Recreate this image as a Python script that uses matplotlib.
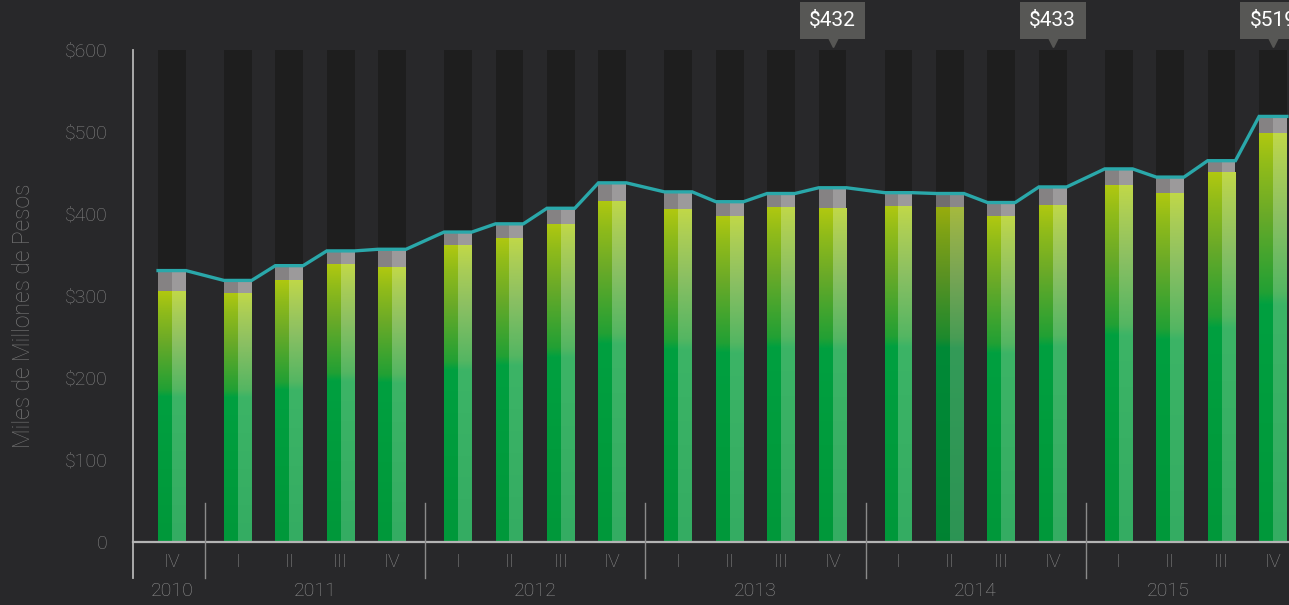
import matplotlib
matplotlib.use('Agg')
import matplotlib.pyplot as plt
import numpy as np
from matplotlib.colors import LinearSegmentedColormap

plt.rcParams['font.family'] = ['Roboto', 'DejaVu Sans']

# data (miles de millones de pesos)
quarters = ['IV', 'I', 'II', 'III', 'IV', 'I', 'II', 'III', 'IV', 'I', 'II', 'III', 'IV',
            'I', 'II', 'III', 'IV', 'I', 'II', 'III', 'IV']
years = [2010, 2011, 2011, 2011, 2011, 2012, 2012, 2012, 2012, 2013, 2013, 2013, 2013,
         2014, 2014, 2014, 2014, 2015, 2015, 2015, 2015]
green_vals = [306, 304, 320, 339, 335, 362, 371, 388, 416, 406, 398, 409, 407,
              410, 408, 397, 411, 435, 426, 451, 499]
totals = [331, 319, 337, 355, 357, 378, 388, 407, 438, 427, 415, 425, 432,
          426, 425, 414, 433, 455, 445, 465, 519]
callouts = {12: '$432', 16: '$433', 20: '$519'}
highlight = 14  # 2014 II drawn darker
ymax = 600

BG = '#28282a'
COL = '#1e1e1e'
gap = 0.28
w = 0.54

# x positions with extra space between years
pos = []
x = 0.0
for i, yr in enumerate(years):
    if i > 0:
        x += 1 + (gap if yr != years[i - 1] else 0)
    pos.append(x)
pos = np.array(pos)

left_cmap = LinearSegmentedColormap.from_list('l', [
    (0.0, '#00983a'), (0.58, '#00a040'), (0.61, '#22a034'),
    (0.80, '#6aaa28'), (0.92, '#90bb1a'), (1.0, '#b0c810')])
right_cmap = LinearSegmentedColormap.from_list('r', [
    (0.0, '#34ac62'), (0.58, '#3cb466'), (0.61, '#54b662'),
    (0.80, '#8cc062'), (0.92, '#aacd56'), (1.0, '#c0d848')])

fig = plt.figure(figsize=(12.89, 6.05), dpi=100, facecolor=BG)
ax = fig.add_axes([133 / 1289, 1 - 542 / 605, 1 - 133 / 1289, (542 - 50) / 605])
ax.set_facecolor(BG)

grad = np.linspace(0, 1, 256).reshape(-1, 1)
for i, (p, g, t) in enumerate(zip(pos, green_vals, totals)):
    ax.bar(p, ymax, width=w, color=COL, zorder=1)
    dark = 0.86 if i == highlight else 1.0
    for cm, x0, x1 in [(left_cmap, p - w / 2, p), (right_cmap, p, p + w / 2)]:
        img = cm(grad)[:, :, :3] * dark
        ax.imshow(img, extent=(x0, x1, 0, g), origin='lower', aspect='auto',
                  zorder=2, interpolation='bilinear')
    ax.bar(p - w / 4, t - g, width=w / 2, bottom=g,
           color='#858283' if i != highlight else '#716e6f', zorder=3)
    ax.bar(p + w / 4, t - g, width=w / 2, bottom=g,
           color='#9c9a9b' if i != highlight else '#8a8889', zorder=3)

# total line, flat across each bar
lx, ly = [], []
for p, t in zip(pos, totals):
    lx += [p - w / 2, p + w / 2]
    ly += [t, t]
ax.plot(lx, ly, color='#2aa8aa', lw=2.4, zorder=4, solid_joinstyle='miter')

xl = pos[0] - 39 / 51.5
xr = pos[-1] + 16 / 51.5
ax.set_xlim(xl, xr)
ax.set_ylim(0, ymax)
for s in ax.spines.values():
    s.set_visible(False)

# axis lines
ax.plot([xl, xl], [-44, ymax], color='#b4b4b4', lw=1.3, clip_on=False, zorder=5)
ax.plot([xl, xr], [0, 0], color='#b4b4b4', lw=1.6, clip_on=False, zorder=5)

# year separators and year labels
ylabels_x = {}
for yr in sorted(set(years)):
    idx = [i for i, v in enumerate(years) if v == yr]
    ylabels_x[yr] = pos[idx].mean()
ylabels_x[2015] = pos[18] - 0.04
for i in range(1, len(years)):
    if years[i] != years[i - 1]:
        sx = (pos[i] + pos[i - 1]) / 2
        ax.plot([sx, sx], [-44, 47], color='#8a8a8a', lw=1, clip_on=False, zorder=5)
for yr, xx in ylabels_x.items():
    ax.text(xx, -60, str(yr), ha='center', va='center', color='#909090',
            fontsize=14, fontweight='light', clip_on=False)

ax.set_xticks(pos)
ax.set_xticklabels(quarters, color='#8a8a8a', fontsize=14, fontweight='light')
ax.set_yticks([0, 100, 200, 300, 400, 500, 600])
ax.set_yticklabels(['0', '$100', '$200', '$300', '$400', '$500', '$600'],
                   color='#858585', fontsize=14, fontweight='light')
ax.tick_params(axis='both', length=0)
ax.tick_params(axis='y', pad=18)
ax.tick_params(axis='x', pad=8)
ax.set_ylabel('Miles de Millones de Pesos', color='#767676', fontsize=16.5,
              fontweight='light')
ax.yaxis.set_label_coords(-98 / 1156, 0.46)

# callouts
for i, txt in callouts.items():
    ax.text(pos[i], 636, txt, ha='center', va='center', color='white', fontsize=15,
            bbox=dict(boxstyle='square,pad=0.45', fc='#575755', ec='none'),
            clip_on=False, zorder=6)
    ax.plot(pos[i], 611, marker='v', ms=8, color='#575755', clip_on=False, zorder=6)

fig.savefig('out.png', dpi=100, facecolor=BG)
